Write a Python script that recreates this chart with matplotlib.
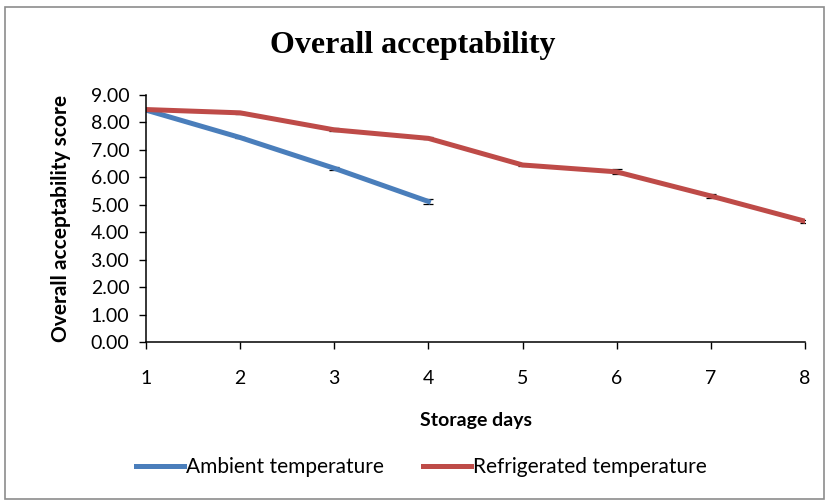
import matplotlib.pyplot as plt
from matplotlib.patches import Rectangle
from matplotlib.lines import Line2D

days = [1, 2, 3, 4, 5, 6, 7, 8]
ambient_days = [1, 2, 3, 4]
ambient = [8.45, 7.45, 6.33, 5.12]
ambient_err = [0.03, 0.03, 0.05, 0.1]
refrigerated = [8.47, 8.35, 7.73, 7.42, 6.45, 6.20, 5.32, 4.40]
refrigerated_err = [0.03, 0.03, 0.05, 0.04, 0.02, 0.09, 0.09, 0.05]
yticks = [0, 1, 2, 3, 4, 5, 6, 7, 8, 9]

blue = '#4a7ebb'
red = '#be4b48'

plt.rcParams['font.family'] = ['Lato', 'DejaVu Sans']

fig = plt.figure(figsize=(8.26, 5.01), dpi=100)
fig.patches.append(Rectangle((5 / 826, 2 / 501), 819 / 826, 492 / 501,
                             transform=fig.transFigure, fill=False,
                             edgecolor='#8c8c8c', linewidth=1.2))
ax = fig.add_axes([146 / 826, 1 - 342 / 501, (805 - 146) / 826, (342 - 95) / 501])

ax.errorbar(ambient_days, ambient, yerr=ambient_err, color=blue, lw=3.6,
            ecolor='black', elinewidth=0.9, capsize=3.5, capthick=0.9)
ax.errorbar(days, refrigerated, yerr=refrigerated_err, color=red, lw=3.6,
            ecolor='black', elinewidth=0.9, capsize=3.5, capthick=0.9)

ax.set_xlim(1, 8)
ax.set_ylim(0, 9)
ax.set_xticks(days)
ax.set_yticks(yticks)
ax.set_yticklabels(['%.2f' % v for v in yticks])
ax.tick_params(axis='both', direction='out', length=5, width=1, labelsize=14, color='black')
ax.tick_params(axis='x', pad=15)
ax.tick_params(axis='y', pad=7)
ax.spines['top'].set_visible(False)
ax.spines['right'].set_visible(False)
ax.spines['left'].set_linewidth(1.1)
ax.spines['bottom'].set_linewidth(1.1)

ax.set_xlabel('Storage days', fontsize=14, fontweight='bold', labelpad=18)
ax.set_ylabel('Overall acceptability score', fontsize=15, fontweight='bold', labelpad=14)
fig.text(0.5, 1 - 45 / 501, 'Overall acceptability', ha='center', va='center',
         fontsize=23, fontweight='bold', family=['Liberation Serif', 'DejaVu Serif'])

handles = [Line2D([], [], color=blue, lw=3.6), Line2D([], [], color=red, lw=3.6)]
fig.legend(handles, ['Ambient temperature', 'Refrigerated temperature'],
           loc='center', bbox_to_anchor=(0.51, 1 - 467 / 501), ncol=2, frameon=False,
           fontsize=15, handlelength=2.3, handletextpad=0.1, columnspacing=1.9)

fig.savefig('out.png', dpi=100)
